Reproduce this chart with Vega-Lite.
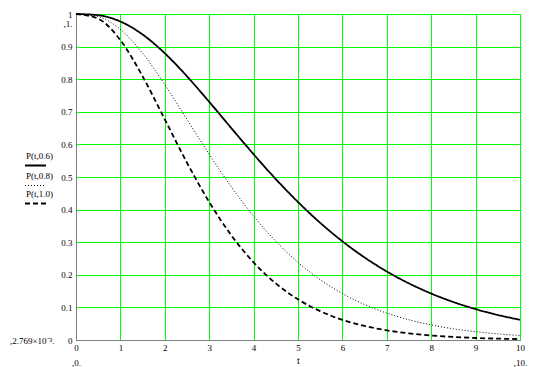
{
  "$schema": "https://vega.github.io/schema/vega-lite/v6.json",
  "width": 444,
  "height": 326,
  "autosize": "none",
  "padding": {"left": 76, "top": 14, "right": 22, "bottom": 27},
  "background": "white",
  "config": {
    "view": {"stroke": "#808080", "strokeWidth": 1},
    "font": "Times New Roman, Liberation Serif, serif",
    "style": {"guide-label": {"lineHeight": 19}},
    "axis": {
      "grid": true,
      "gridColor": "#00ff00",
      "gridWidth": 1,
      "gridOpacity": 1,
      "ticks": false,
      "domainColor": "#808080",
      "domainWidth": 1,
      "labelFont": "Times New Roman, Liberation Serif, serif",
      "labelFontSize": 9,
      "labelColor": "black",
      "titleFont": "Times New Roman, Liberation Serif, serif",
      "titleFontWeight": "normal",
      "titleFontSize": 10,
      "titleColor": "black"
    }
  },
  "data": {"values": [
    {"t": 0, "P": 1, "s": "P(t,0.6)"},
    {"t": 0.5, "P": 0.9964, "s": "P(t,0.6)"},
    {"t": 1, "P": 0.9769, "s": "P(t,0.6)"},
    {"t": 1.5, "P": 0.9371, "s": "P(t,0.6)"},
    {"t": 2, "P": 0.8795, "s": "P(t,0.6)"},
    {"t": 2.5, "P": 0.8088, "s": "P(t,0.6)"},
    {"t": 3, "P": 0.7306, "s": "P(t,0.6)"},
    {"t": 3.5, "P": 0.6496, "s": "P(t,0.6)"},
    {"t": 4, "P": 0.5697, "s": "P(t,0.6)"},
    {"t": 4.5, "P": 0.4936, "s": "P(t,0.6)"},
    {"t": 5, "P": 0.4232, "s": "P(t,0.6)"},
    {"t": 5.5, "P": 0.3594, "s": "P(t,0.6)"},
    {"t": 6, "P": 0.3028, "s": "P(t,0.6)"},
    {"t": 6.5, "P": 0.2531, "s": "P(t,0.6)"},
    {"t": 7, "P": 0.2102, "s": "P(t,0.6)"},
    {"t": 7.5, "P": 0.1736, "s": "P(t,0.6)"},
    {"t": 8, "P": 0.1425, "s": "P(t,0.6)"},
    {"t": 8.5, "P": 0.1165, "s": "P(t,0.6)"},
    {"t": 9, "P": 0.0948, "s": "P(t,0.6)"},
    {"t": 9.5, "P": 0.0768, "s": "P(t,0.6)"},
    {"t": 10, "P": 0.0620, "s": "P(t,0.6)"},
    {"t": 0, "P": 1, "s": "P(t,0.8)"},
    {"t": 0.5, "P": 0.9921, "s": "P(t,0.8)"},
    {"t": 1, "P": 0.9526, "s": "P(t,0.8)"},
    {"t": 1.5, "P": 0.8795, "s": "P(t,0.8)"},
    {"t": 2, "P": 0.7834, "s": "P(t,0.8)"},
    {"t": 2.5, "P": 0.6767, "s": "P(t,0.8)"},
    {"t": 3, "P": 0.5697, "s": "P(t,0.8)"},
    {"t": 3.5, "P": 0.4695, "s": "P(t,0.8)"},
    {"t": 4, "P": 0.3799, "s": "P(t,0.8)"},
    {"t": 4.5, "P": 0.3028, "s": "P(t,0.8)"},
    {"t": 5, "P": 0.2381, "s": "P(t,0.8)"},
    {"t": 5.5, "P": 0.1851, "s": "P(t,0.8)"},
    {"t": 6, "P": 0.1425, "s": "P(t,0.8)"},
    {"t": 6.5, "P": 0.1088, "s": "P(t,0.8)"},
    {"t": 7, "P": 0.0824, "s": "P(t,0.8)"},
    {"t": 7.5, "P": 0.0620, "s": "P(t,0.8)"},
    {"t": 8, "P": 0.0463, "s": "P(t,0.8)"},
    {"t": 8.5, "P": 0.0344, "s": "P(t,0.8)"},
    {"t": 9, "P": 0.0255, "s": "P(t,0.8)"},
    {"t": 9.5, "P": 0.0188, "s": "P(t,0.8)"},
    {"t": 10, "P": 0.0138, "s": "P(t,0.8)"},
    {"t": 0, "P": 1, "s": "P(t,1.0)"},
    {"t": 0.5, "P": 0.9856, "s": "P(t,1.0)"},
    {"t": 1, "P": 0.9197, "s": "P(t,1.0)"},
    {"t": 1.5, "P": 0.8088, "s": "P(t,1.0)"},
    {"t": 2, "P": 0.6767, "s": "P(t,1.0)"},
    {"t": 2.5, "P": 0.5438, "s": "P(t,1.0)"},
    {"t": 3, "P": 0.4232, "s": "P(t,1.0)"},
    {"t": 3.5, "P": 0.3208, "s": "P(t,1.0)"},
    {"t": 4, "P": 0.2381, "s": "P(t,1.0)"},
    {"t": 4.5, "P": 0.1736, "s": "P(t,1.0)"},
    {"t": 5, "P": 0.1247, "s": "P(t,1.0)"},
    {"t": 5.5, "P": 0.0884, "s": "P(t,1.0)"},
    {"t": 6, "P": 0.0620, "s": "P(t,1.0)"},
    {"t": 6.5, "P": 0.0430, "s": "P(t,1.0)"},
    {"t": 7, "P": 0.0296, "s": "P(t,1.0)"},
    {"t": 7.5, "P": 0.0203, "s": "P(t,1.0)"},
    {"t": 8, "P": 0.0138, "s": "P(t,1.0)"},
    {"t": 8.5, "P": 0.0093, "s": "P(t,1.0)"},
    {"t": 9, "P": 0.0062, "s": "P(t,1.0)"},
    {"t": 9.5, "P": 0.0042, "s": "P(t,1.0)"},
    {"t": 10, "P": 0.0028, "s": "P(t,1.0)"}
  ]},
  "mark": {"type": "line", "interpolate": "monotone", "color": "black"},
  "encoding": {
    "x": {
      "field": "t", "type": "quantitative",
      "scale": {"domain": [0, 10], "nice": false},
      "axis": {
        "values": [0, 1, 2, 3, 4, 5, 6, 7, 8, 9, 10],
        "labelExpr": "datum.value == 0 ? ['0', ',0.'] : datum.value == 10 ? ['10', ',10.'] : datum.label",
        "labelLineHeight": 15,
        "labelPadding": 3,
        "labelFlush": false,
        "title": "t",
        "titleY": 23,
        "titleBaseline": "alphabetic"
      }
    },
    "y": {
      "field": "P", "type": "quantitative",
      "scale": {"domain": [0, 1], "nice": false},
      "axis": {
        "values": [0, 0.1, 0.2, 0.3, 0.4, 0.5, 0.6, 0.7, 0.8, 0.9, 1],
        "labelExpr": "datum.value == 1 ? ['1', ',1.\u00a0\u00a0\u00a0\u00a0\u00a0'] : datum.value == 0 ? ',2.769×10⁻³.\u00a0\u00a0\u00a0\u00a0\u00a0\u00a00' : format(datum.value, '.1f')",
        "labelLineHeight": 9,
        "labelPadding": 4,
        "labelFlush": false,
        "title": null
      }
    },
    "strokeDash": {
      "field": "s", "type": "nominal",
      "scale": {"domain": ["P(t,0.6)", "P(t,0.8)", "P(t,1.0)"], "range": [[1, 0], [1, 2], [5, 3]]},
      "legend": {
        "title": null,
        "orient": "none",
        "legendX": -52,
        "legendY": 140,
        "padding": 0,
        "symbolType": "stroke",
        "symbolSize": 440,
        "symbolStrokeColor": "black",
        "labelFont": "Times New Roman, Liberation Serif, serif",
        "labelFontSize": 9,
        "labelColor": "black",
        "labelBaseline": "line-bottom",
        "labelOffset": -21,
        "rowPadding": 1.5
      }
    },
    "strokeWidth": {
      "field": "s", "type": "nominal",
      "scale": {"type": "ordinal", "domain": ["P(t,0.6)", "P(t,0.8)", "P(t,1.0)"], "range": [1.8, 1, 1.8]},
      "legend": {
        "title": null,
        "orient": "none",
        "legendX": -52,
        "legendY": 140,
        "padding": 0,
        "symbolType": "stroke",
        "symbolSize": 440,
        "symbolStrokeColor": "black",
        "labelFont": "Times New Roman, Liberation Serif, serif",
        "labelFontSize": 9,
        "labelColor": "black",
        "labelBaseline": "line-bottom",
        "labelOffset": -21,
        "rowPadding": 1.5
      }
    }
  }
}
